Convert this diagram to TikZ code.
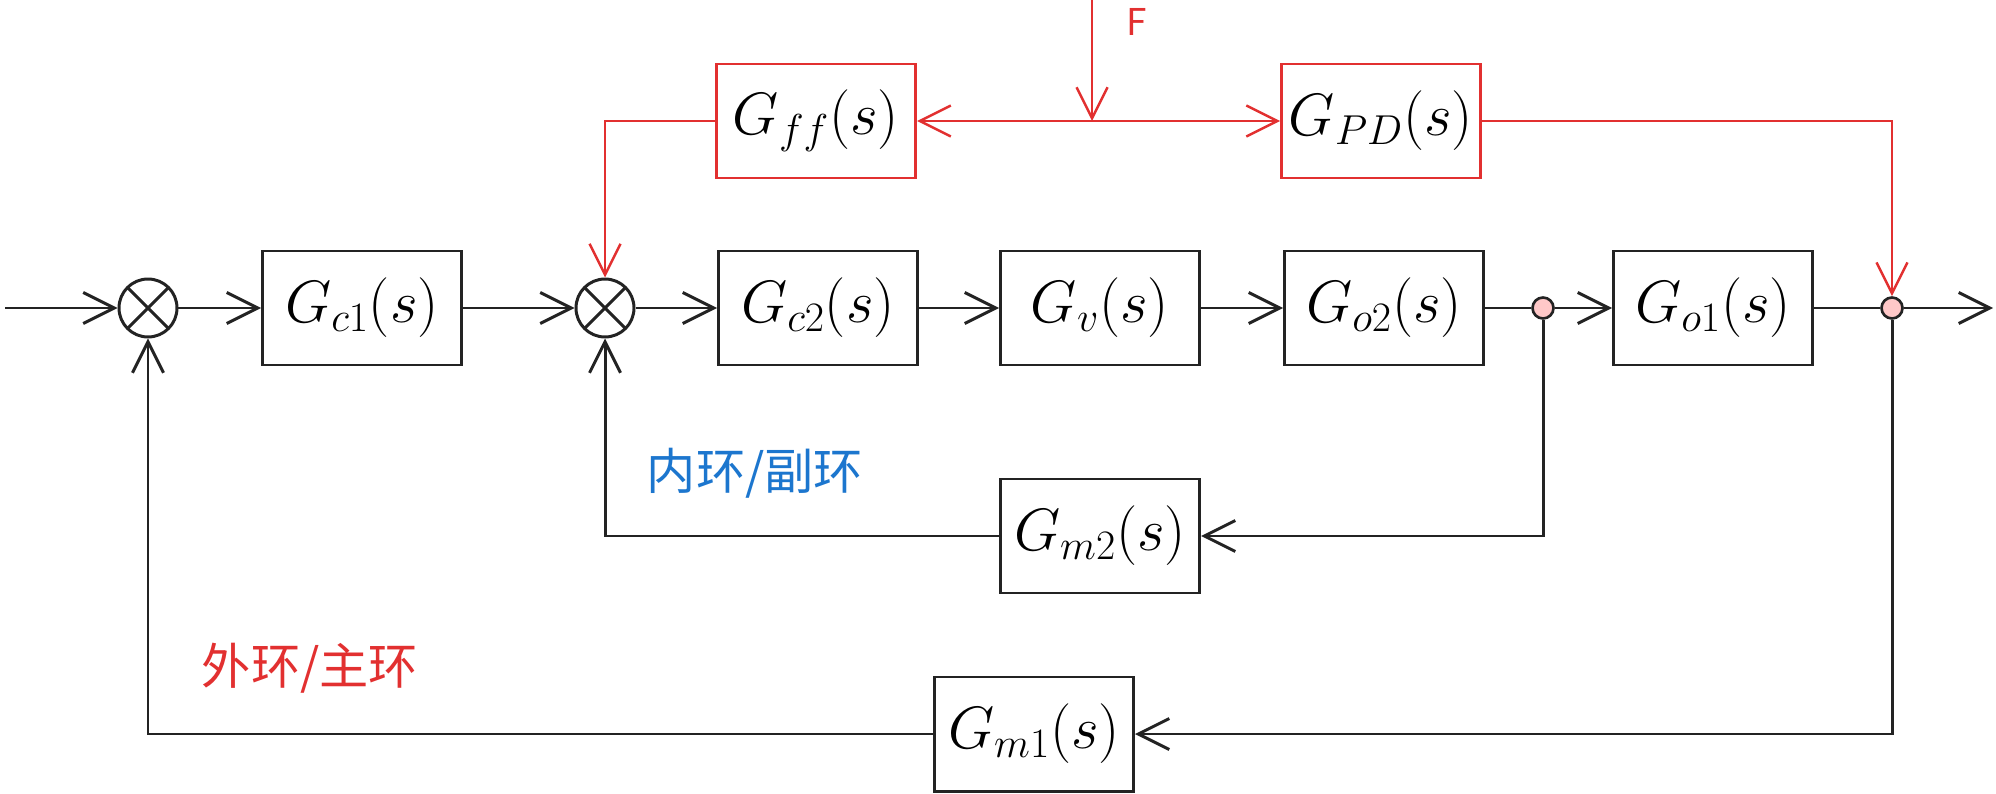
\RequirePackage{fix-cm}
\documentclass[tikz,border=0pt]{standalone}
\usepackage{amsmath}
\usepackage{fontspec}
\newfontfamily\cjk{Noto Sans CJK SC}
\usepackage{tikz}
\usetikzlibrary{arrows.meta}
\definecolor{linegray}{RGB}{35,35,35}
\definecolor{ffred}{RGB}{226,48,48}
\definecolor{loopblue}{RGB}{28,118,206}
\definecolor{dotpink}{RGB}{255,200,200}
\tikzstyle{block} = [draw=linegray, line width=1.7pt, rectangle,
    minimum height=2.28cm, minimum width=3.98cm,
    font=\fontsize{34}{40}\selectfont]
\tikzstyle{redblock} = [block, draw=ffred]
\tikzstyle{sumnode} = [draw=linegray, line width=1.7pt, circle, minimum size=1.16cm,
    path picture={\draw[linegray, line width=1.7pt]
        (path picture bounding box.north west) -- (path picture bounding box.south east)
        (path picture bounding box.north east) -- (path picture bounding box.south west);}]
\tikzstyle{pick} = [draw=linegray, line width=1.5pt, circle, fill=dotpink,
    minimum size=0.42cm, inner sep=0pt]
\tikzstyle{sig} = [draw=linegray, line width=1.7pt,
    -{Straight Barb[length=0.62cm, width=0.62cm]}]
\tikzstyle{wire} = [draw=linegray, line width=1.7pt]
\tikzstyle{redsig} = [draw=ffred, line width=1.4pt,
    -{Straight Barb[length=0.62cm, width=0.62cm]}]

\begin{document}
\begin{tikzpicture}
        \useasboundingbox (0,0) rectangle (39.92,-15.88);
        % forward path
        \coordinate (input) at (0.1,-6.16);
        \node[sumnode, name=sum1] at (2.96,-6.16) {};
        \node[block, name=Gc1] at (7.24,-6.16) {$G_{c1}(s)$};
        \node[sumnode, name=sum2] at (12.1,-6.16) {};
        \node[block, name=Gc2] at (16.36,-6.16) {$G_{c2}(s)$};
        \node[block, name=Gv] at (22.0,-6.16) {$G_{v}(s)$};
        \node[block, name=Go2] at (27.68,-6.16) {$G_{o2}(s)$};
        \node[pick, name=pick1] at (30.86,-6.16) {};
        \node[block, name=Go1] at (34.26,-6.16) {$G_{o1}(s)$};
        \node[pick, name=pick2] at (37.84,-6.16) {};
        \coordinate (output) at (39.86,-6.16);

        % feedforward
        \node[redblock, name=Gff] at (16.32,-2.42) {$G_{ff}(s)$};
        \node[redblock, name=GPD] at (27.62,-2.42) {$G_{PD}(s)$};
        \coordinate (ftop) at (21.84,0);
        \coordinate (fjoin) at (21.84,-2.42);
        \node[text=ffred, font=\cjk\fontsize{21}{24}\selectfont, name=flabel] at (22.74,-0.44) {F};

        % measurement
        \node[block, name=Gm2] at (22.0,-10.72) {$G_{m2}(s)$};
        \node[block, name=Gm1] at (20.68,-14.68) {$G_{m1}(s)$};
        \node[text=loopblue, font=\cjk\fontsize{28}{32}\selectfont, name=innerlbl] at (15.1,-9.46) {内环/副环};
        \node[text=ffred, font=\cjk\fontsize{28}{32}\selectfont, name=outerlbl] at (6.2,-13.36) {外环/主环};

        \draw[sig] (input) -- (sum1);
        \draw[sig] (sum1) -- (Gc1);
        \draw[sig] (Gc1) -- (sum2);
        \draw[sig] (sum2) -- (Gc2);
        \draw[sig] (Gc2) -- (Gv);
        \draw[sig] (Gv) -- (Go2);
        \draw[wire] (Go2) -- (pick1);
        \draw[sig] (pick1) -- (Go1);
        \draw[wire] (Go1) -- (pick2);
        \draw[sig] (pick2) -- (output);

        \draw[redsig] (ftop) -- (fjoin);
        \draw[redsig, {Straight Barb[length=0.62cm, width=0.62cm]}-{Straight Barb[length=0.62cm, width=0.62cm]}] (Gff) -- (GPD);
        \draw[redsig] (Gff.west) -| (sum2.north);
        \draw[redsig] (GPD.east) -| (pick2.north);

        \draw[sig] (pick1) |- (Gm2.east);
        \draw[sig] (Gm2.west) -| (sum2.south);
        \draw[sig] (pick2) |- (Gm1.east);
        \draw[sig] (Gm1.west) -| (sum1.south);
\end{tikzpicture}
\end{document}
